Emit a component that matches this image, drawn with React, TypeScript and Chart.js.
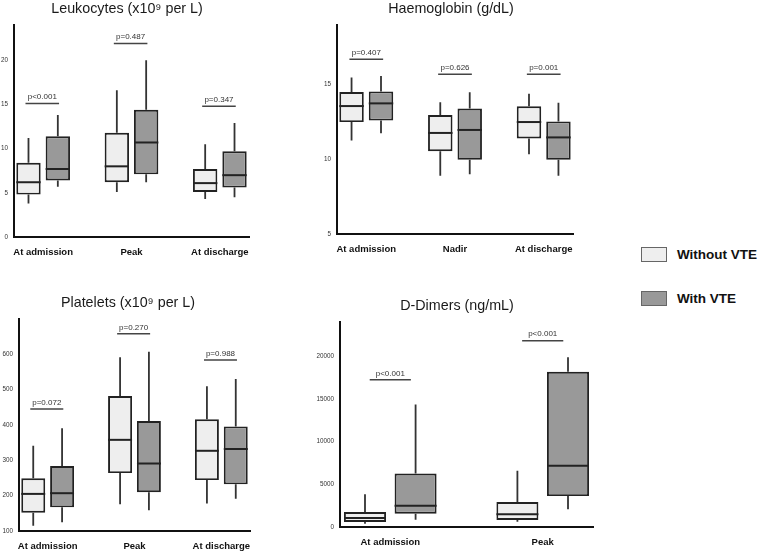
import React, { useEffect, useRef } from 'react';
import { Chart, registerables } from 'chart.js';

Chart.register(...registerables);

const FONT = "'Liberation Sans', Arial, Helvetica, sans-serif";

// Series (legend)
const seriesNames = ['Without VTE', 'With VTE'];
const seriesColors = ['#eeeeee', '#999999'];

// Each box: [min, Q1, median, Q3, max]

// Leukocytes
const leukoTitle = 'Leukocytes (x10⁹ per L)';
const leukoCategories = ['At admission', 'Peak', 'At discharge'];
const leukoTicks = [0, 5, 10, 15, 20];
const leukoWithout = [
  [3.8, 4.8, 6.2, 8.4, 11.2],
  [5.1, 6.2, 8.0, 11.8, 16.6],
  [4.3, 5.1, 6.1, 7.7, 10.5],
];
const leukoWith = [
  [5.7, 6.4, 7.7, 11.4, 13.8],
  [6.2, 7.1, 10.7, 14.4, 20.0],
  [4.5, 5.6, 7.0, 9.7, 12.9],
];
const leukoPLabels = ['p<0.001', 'p=0.487', 'p=0.347'];
const leukoPLevels = [15.1, 21.9, 14.8];

// Haemoglobin
const haemoTitle = 'Haemoglobin (g/dL)';
const haemoCategories = ['At admission', 'Nadir', 'At discharge'];
const haemoTicks = [5, 10, 15];
const haemoWithout = [
  [11.26, 12.5, 13.57, 14.51, 15.49],
  [8.9, 10.55, 11.77, 12.97, 13.82],
  [10.35, 11.4, 12.5, 13.55, 14.4],
];
const haemoWith = [
  [11.75, 12.6, 13.75, 14.55, 15.58],
  [9.0, 9.97, 11.97, 13.4, 14.49],
  [8.9, 9.97, 11.47, 12.54, 13.8],
];
const haemoPLabels = ['p=0.407', 'p=0.626', 'p=0.001'];
const haemoPLevels = [16.7, 15.7, 15.7];

// Platelets
const plateTitle = 'Platelets (x10⁹ per L)';
const plateCategories = ['At admission', 'Peak', 'At discharge'];
const plateTicks = [100, 200, 300, 400, 500, 600];
const plateWithout = [
  [115, 152, 205, 249, 341],
  [176, 264, 358, 482, 592],
  [178, 244, 327, 416, 510],
];
const plateWith = [
  [125, 167, 207, 284, 391],
  [159, 210, 291, 411, 607],
  [191, 232, 332, 396, 530],
];
const platePLabels = ['p=0.072', 'p=0.270', 'p=0.988'];
const platePLevels = [445, 658, 584];

// D-Dimers
const dimerTitle = 'D-Dimers (ng/mL)';
const dimerCategories = ['At admission', 'Peak'];
const dimerTicks = [0, 5000, 10000, 15000, 20000];
const dimerWithout = [
  [390, 586, 1055, 1758, 3828],
  [620, 819, 1485, 2924, 6584],
];
const dimerWith = [
  [859, 1562, 2500, 6250, 14336],
  [2070, 3626, 7170, 18165, 19883],
];
const dimerPLabels = ['p<0.001', 'p<0.001'];
const dimerPLevels = [17227, 21800];

type Frame = {
  canvasLeft: number; canvasTop: number; canvasH: number;
  chartLeft: number; chartRight: number; chartTop: number; chartBottom: number;
  titleCx: number; titleCy: number;
};

type PanelCfg = {
  title: string;
  categories: string[];
  ticks: number[];
  yMin: number;
  yMax: number;
  series: number[][][];
  pLabels: string[];
  pLevels: number[];
  pFrom: number;
  pTo: number;
  frame: Frame;
};

const panels: PanelCfg[] = [
  {
    title: leukoTitle, categories: leukoCategories, ticks: leukoTicks, yMin: 0, yMax: 24,
    series: [leukoWithout, leukoWith], pLabels: leukoPLabels, pLevels: leukoPLevels, pFrom: -0.2, pTo: 0.18,
    frame: { canvasLeft: 0, canvasTop: 0, canvasH: 262, chartLeft: 14, chartRight: 249, chartTop: 25, chartBottom: 237, titleCx: 127, titleCy: 9 },
  },
  {
    title: haemoTitle, categories: haemoCategories, ticks: haemoTicks, yMin: 5, yMax: 19,
    series: [haemoWithout, haemoWith], pLabels: haemoPLabels, pLevels: haemoPLevels, pFrom: -0.19, pTo: 0.19,
    frame: { canvasLeft: 322, canvasTop: 0, canvasH: 262, chartLeft: 337, chartRight: 573, chartTop: 25, chartBottom: 234, titleCx: 451, titleCy: 9 },
  },
  {
    title: plateTitle, categories: plateCategories, ticks: plateTicks, yMin: 100, yMax: 700,
    series: [plateWithout, plateWith], pLabels: platePLabels, pLevels: platePLevels, pFrom: -0.2, pTo: 0.18,
    frame: { canvasLeft: 0, canvasTop: 270, canvasH: 283, chartLeft: 19, chartRight: 250, chartTop: 319, chartBottom: 531, titleCx: 128, titleCy: 303 },
  },
  {
    title: dimerTitle, categories: dimerCategories, ticks: dimerTicks, yMin: 0, yMax: 24000,
    series: [dimerWithout, dimerWith], pLabels: dimerPLabels, pLevels: dimerPLevels, pFrom: -0.135, pTo: 0.135,
    frame: { canvasLeft: 313, canvasTop: 270, canvasH: 283, chartLeft: 340, chartRight: 593, chartTop: 322, chartBottom: 527, titleCx: 457, titleCy: 306.5 },
  },
];

const GROUP_OFFSET = 0.166;
const TITLE_SIZE = 14.3;

function canvasWidth(f: Frame) {
  return Math.max(2 * (f.titleCx - f.canvasLeft), f.chartRight - f.canvasLeft + 4);
}

function BoxPanel({ cfg }: { cfg: PanelCfg }) {
  const ref = useRef<HTMLCanvasElement | null>(null);

  useEffect(() => {
    if (!ref.current) return;
    const f = cfg.frame;
    const W = canvasWidth(f);
    const yw = f.chartLeft - f.canvasLeft;
    const rightW = f.canvasLeft + W - f.chartRight;
    const titleLine = TITLE_SIZE * 1.2;
    const titlePadTop = f.titleCy - f.canvasTop - titleLine / 2;
    const titlePadBottom = f.chartTop - f.canvasTop - titleLine - titlePadTop;
    const xh = f.canvasTop + f.canvasH - f.chartBottom;
    const n = cfg.categories.length;

    const whiskerPlugin = {
      id: 'boxWhiskers',
      beforeDatasetsDraw(chart: any) {
        const ctx = chart.ctx;
        const y = chart.scales.y;
        ctx.save();
        ctx.strokeStyle = '#333';
        ctx.lineWidth = 1.8;
        chart.data.datasets.forEach((ds: any, d: number) => {
          const meta = chart.getDatasetMeta(d);
          meta.data.forEach((el: any, j: number) => {
            const s = ds.stats[j];
            ctx.beginPath();
            ctx.moveTo(el.x, y.getPixelForValue(s[3]));
            ctx.lineTo(el.x, y.getPixelForValue(s[4]));
            ctx.moveTo(el.x, y.getPixelForValue(s[1]));
            ctx.lineTo(el.x, y.getPixelForValue(s[0]));
            ctx.stroke();
          });
        });
        ctx.restore();
      },
      afterDatasetsDraw(chart: any) {
        const ctx = chart.ctx;
        const x = chart.scales.x;
        const y = chart.scales.y;
        ctx.save();
        ctx.strokeStyle = '#222';
        ctx.lineWidth = 2;
        chart.data.datasets.forEach((ds: any, d: number) => {
          const meta = chart.getDatasetMeta(d);
          meta.data.forEach((el: any, j: number) => {
            const s = ds.stats[j];
            const my = y.getPixelForValue(s[2]);
            ctx.beginPath();
            ctx.moveTo(el.x - el.width / 2, my);
            ctx.lineTo(el.x + el.width / 2, my);
            ctx.stroke();
          });
        });
        // p-value brackets
        ctx.strokeStyle = '#444';
        ctx.lineWidth = 1.5;
        ctx.fillStyle = '#333';
        ctx.font = `8px ${FONT}`;
        ctx.textAlign = 'center';
        ctx.textBaseline = 'middle';
        cfg.pLabels.forEach((label, j) => {
          const x1 = x.getPixelForValue(j + cfg.pFrom);
          const x2 = x.getPixelForValue(j + cfg.pTo);
          const py = y.getPixelForValue(cfg.pLevels[j]);
          ctx.beginPath();
          ctx.moveTo(x1, py);
          ctx.lineTo(x2, py);
          ctx.stroke();
          ctx.fillText(label, (x1 + x2) / 2, py - 6.5);
        });
        ctx.restore();
      },
    };

    const datasets = cfg.series.map((stats, d) => ({
      label: seriesNames[d],
      data: stats.map((s, j) => ({ x: j + (d === 0 ? -GROUP_OFFSET : GROUP_OFFSET), y: [s[1], s[3]] })),
      stats,
      backgroundColor: seriesColors[d],
      borderColor: '#222',
      borderWidth: 1.9,
      borderSkipped: false,
      grouped: false,
      barPercentage: 0.83,
      categoryPercentage: 1,
    }));

    const chart = new Chart(ref.current, {
      type: 'bar',
      data: { datasets } as any,
      plugins: [whiskerPlugin],
      options: {
        animation: false,
        responsive: false,
        maintainAspectRatio: false,
        devicePixelRatio: 1,
        layout: { padding: 0 },
        plugins: {
          legend: { display: false },
          tooltip: { enabled: false },
          title: {
            display: true,
            text: cfg.title,
            color: '#1a1a1a',
            font: { family: FONT, size: TITLE_SIZE, weight: 'normal' },
            padding: { top: titlePadTop, bottom: titlePadBottom },
          },
        },
        scales: {
          x: {
            type: 'linear',
            offset: false,
            min: -0.33,
            max: n - 1 + 0.33,
            grid: { display: false, drawTicks: true, tickLength: 8, offset: false },
            border: { display: true, color: '#111', width: 2 },
            afterBuildTicks: (s: any) => { s.ticks = cfg.categories.map((_, i) => ({ value: i })); },
            afterFit: (s: any) => { s.height = xh; },
            ticks: {
              autoSkip: false,
              maxRotation: 0,
              minRotation: 0,
              padding: 2,
              color: '#111',
              font: { family: FONT, size: 9.5, weight: 'bold' },
              callback: (_v: any, i: number) => cfg.categories[i],
            },
          },
          y: {
            type: 'linear',
            position: 'left',
            min: cfg.yMin,
            max: cfg.yMax,
            grid: { display: false, drawTicks: false, tickLength: 0 },
            border: { display: true, color: '#111', width: 2 },
            afterBuildTicks: (s: any) => { s.ticks = cfg.ticks.map((v) => ({ value: v })); },
            afterFit: (s: any) => { s.width = yw; },
            ticks: {
              padding: 6,
              color: '#333',
              font: { family: FONT, size: 6.3 },
              callback: (v: any) => String(v),
            },
          },
          yRight: {
            type: 'linear',
            axis: 'y',
            position: 'right',
            grid: { display: false, drawTicks: false },
            border: { display: false },
            ticks: { display: false },
            afterFit: (s: any) => { s.width = rightW; },
          },
        },
      } as any,
    });
    return () => chart.destroy();
  }, [cfg]);

  const f = cfg.frame;
  const W = canvasWidth(f);
  return (
    <canvas
      ref={ref}
      width={W}
      height={f.canvasH}
      style={{ position: 'absolute', left: f.canvasLeft, top: f.canvasTop, width: W, height: f.canvasH }}
    />
  );
}

const legendTops = [247, 291];

export default function App() {
  return (
    <div style={{ position: 'absolute', left: 0, top: 0, width: 758, height: 553, background: '#fff', overflow: 'hidden' }}>
      {panels.map((p, i) => (
        <BoxPanel key={i} cfg={p} />
      ))}
      {seriesNames.map((name, i) => (
        <div key={name} style={{ position: 'absolute', left: 641, top: legendTops[i], height: 15, display: 'flex', alignItems: 'center' }}>
          <div style={{ width: 26, height: 15, boxSizing: 'border-box', background: seriesColors[i], border: '1px solid #666' }} />
          <span style={{ marginLeft: 10, fontFamily: FONT, fontWeight: 'bold', fontSize: 13.5, color: '#111', whiteSpace: 'nowrap' }}>{name}</span>
        </div>
      ))}
    </div>
  );
}
